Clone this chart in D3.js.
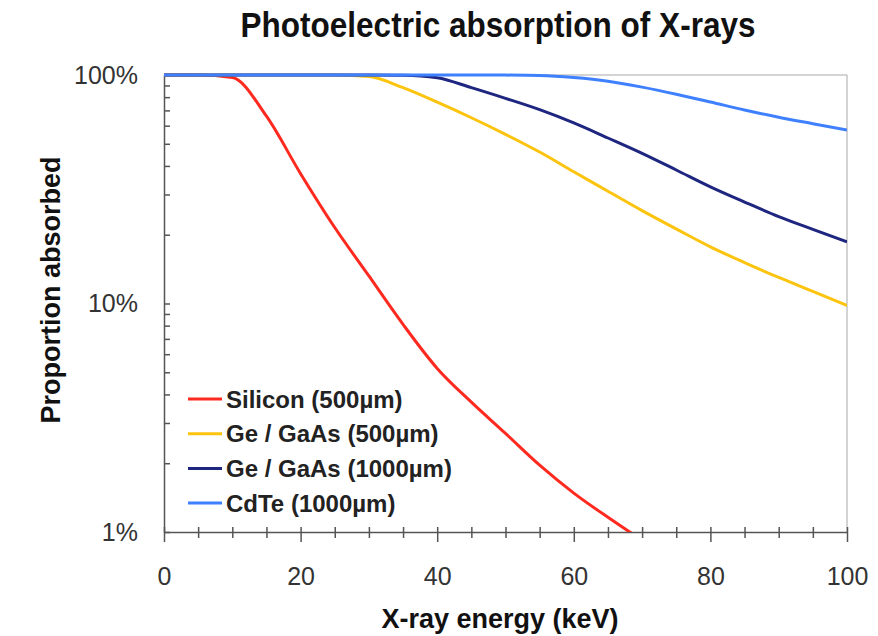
<!DOCTYPE html>
<html lang="en">
<head>
  <meta charset="utf-8">
  <title>Photoelectric absorption of X-rays</title>
  <script src="https://cdn.jsdelivr.net/npm/d3@7"></script>
  <style>
    body { margin: 0; background: #fff; }
    text { font-family: "Liberation Sans", Arial, sans-serif; }
  </style>
</head>
<body>
<script>

  // energies in keV, proportions in %
  var energies = [0, 5, 10, 15, 20, 25, 30, 35, 40, 45, 50, 55, 60, 65, 70, 75, 80, 85, 90, 95, 100];
  var silicon500 = [100, 100, 97.5, 66, 37, 21.5, 13.2, 8.1, 5.2, 3.7, 2.7, 1.96, 1.48, 1.16, 0.92, null, null, null, null, null, null];
  var ge500 = [100, 100, 100, 100, 100, 99.9, 98.5, 88, 76, 65, 55, 46, 37.7, 31, 25.5, 21.2, 17.7, 15.1, 13, 11.3, 9.8];
  var ge1000 = [100, 100, 100, 100, 100, 100, 100, 99.8, 97.3, 88, 79, 70.5, 61.7, 53, 45.4, 38.4, 32.4, 27.8, 24, 21.1, 18.6];
  var cdte1000 = [100, 100, 100, 100, 100, 100, 100, 100, 100, 100, 99.9, 99.5, 97.5, 94, 88.5, 82.4, 76.2, 70.3, 65.3, 61.2, 57.4];

  var seriesNames = ["Silicon (500\u00b5m)", "Ge / GaAs (500\u00b5m)", "Ge / GaAs (1000\u00b5m)", "CdTe (1000\u00b5m)"];
  var seriesColors = ["#ff2a1f", "#fcc40f", "#1e2680", "#3f80ff"];
  var xTickLabels = [0, 20, 40, 60, 80, 100];
  var yTickLabels = { 1: "1%", 10: "10%", 100: "100%" };

  var width = 878, height = 636;
  var plotLeft = 164, plotRight = 847, plotTop = 75, plotBottom = 532;

  var svg = d3.select("body").append("svg")
      .attr("width", width)
      .attr("height", height);

  var x = d3.scaleLinear().domain([0, 100]).range([plotLeft, plotRight]);
  var y = d3.scaleLog().domain([1, 100]).range([plotBottom, plotTop]);

  // title
  svg.append("text")
      .attr("x", 498)
      .attr("y", 37)
      .attr("text-anchor", "middle")
      .attr("font-family", "'Liberation Sans Narrow', 'DejaVu Sans Condensed', sans-serif")
      .attr("font-weight", "bold")
      .attr("font-size", 35)
      .attr("textLength", 515)
      .attr("lengthAdjust", "spacingAndGlyphs")
      .attr("fill", "#111")
      .text("Photoelectric absorption of X-rays");

  // frame (top and right)
  svg.append("path")
      .attr("d", "M" + plotLeft + "," + plotTop + "H" + plotRight + "V" + plotBottom)
      .attr("fill", "none")
      .attr("stroke", "#a8a8a8")
      .attr("stroke-width", 1);

  // x axis
  var xAxis = d3.axisBottom(x)
      .tickValues(d3.range(0, 101, 5))
      .tickFormat(function(d) { return xTickLabels.indexOf(d) >= 0 ? d : ""; })
      .tickSizeOuter(0);

  var gx = svg.append("g")
      .attr("transform", "translate(0," + plotBottom + ")")
      .call(xAxis);
  gx.select(".domain").attr("stroke", "#555").attr("stroke-width", 1.5);
  gx.selectAll(".tick line")
      .attr("stroke", "#555")
      .attr("stroke-width", 1.5)
      .attr("y1", -5)
      .attr("y2", function(d) { return d % 20 === 0 ? 10 : 6; });
  gx.selectAll(".tick text")
      .attr("y", 35)
      .attr("dy", "0.71em")
      .attr("font-size", 25)
      .attr("font-family", "'Liberation Sans', Arial, sans-serif")
      .attr("fill", "#333");

  // y axis
  var yAxis = d3.axisLeft(y)
      .tickValues(y.ticks())
      .tickFormat(function(d) { return yTickLabels[d] || ""; })
      .tickSizeInner(-6)
      .tickSizeOuter(0)
      .tickPadding(26);

  var gy = svg.append("g")
      .attr("transform", "translate(" + plotLeft + ",0)")
      .call(yAxis);
  gy.select(".domain").attr("stroke", "#555").attr("stroke-width", 1.5);
  gy.selectAll(".tick line").attr("stroke", "#555").attr("stroke-width", 1.5);
  gy.selectAll(".tick text")
      .attr("font-size", 25)
      .attr("font-family", "'Liberation Sans', Arial, sans-serif")
      .attr("fill", "#333");

  // axis titles
  svg.append("text")
      .attr("x", 500)
      .attr("y", 628)
      .attr("text-anchor", "middle")
      .attr("font-weight", "bold")
      .attr("font-size", 27)
      .attr("fill", "#111")
      .text("X-ray energy (keV)");

  svg.append("text")
      .attr("transform", "translate(60,290) rotate(-90)")
      .attr("text-anchor", "middle")
      .attr("font-weight", "bold")
      .attr("font-size", 27)
      .attr("fill", "#111")
      .text("Proportion absorbed");

  // curves
  svg.append("clipPath").attr("id", "plot")
    .append("rect")
      .attr("x", plotLeft).attr("y", plotTop - 3)
      .attr("width", plotRight - plotLeft).attr("height", plotBottom - plotTop + 3);

  var series = [silicon500, ge500, ge1000, cdte1000];

  var line = d3.line()
      .defined(function(d) { return d[1] != null; })
      .x(function(d) { return x(d[0]); })
      .y(function(d) { return y(d[1]); })
      .curve(d3.curveMonotoneX);

  svg.append("g")
      .attr("clip-path", "url(#plot)")
    .selectAll("path")
    .data(series)
    .enter().append("path")
      .attr("d", function(s) {
        return line(energies.map(function(e, i) { return [e, s[i]]; }));
      })
      .attr("fill", "none")
      .attr("stroke", function(s, i) { return seriesColors[i]; })
      .attr("stroke-width", 3);

  // legend
  var legend = svg.append("g").selectAll("g")
      .data(seriesNames)
      .enter().append("g")
      .attr("transform", function(d, i) { return "translate(188," + (399 + i * 34.7) + ")"; });

  legend.append("line")
      .attr("x1", 0).attr("x2", 34)
      .attr("stroke", function(d, i) { return seriesColors[i]; })
      .attr("stroke-width", 3);

  legend.append("text")
      .attr("x", 38)
      .attr("dy", "0.36em")
      .attr("font-weight", "bold")
      .attr("font-size", 24)
      .attr("fill", "#222")
      .text(function(d) { return d; });

</script>
</body>
</html>
